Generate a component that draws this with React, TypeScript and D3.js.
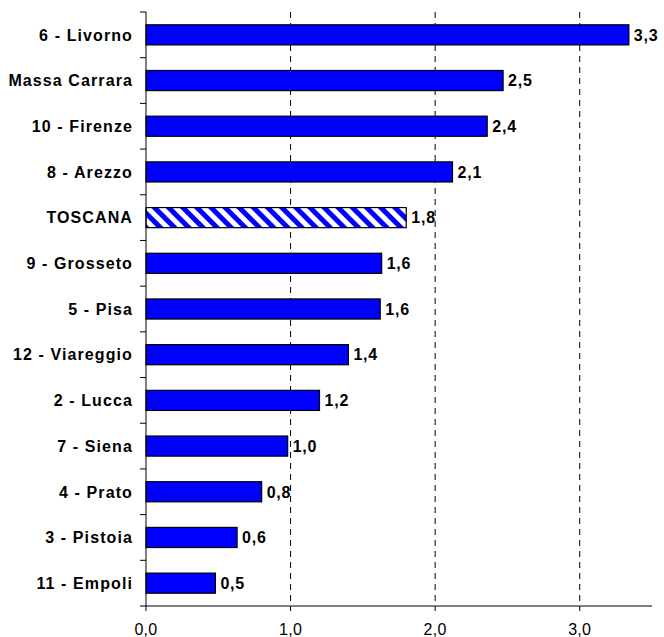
import React from "react";
import * as d3 from "d3";

const categories = [
  "6 - Livorno",
  "Massa Carrara",
  "10 - Firenze",
  "8 - Arezzo",
  "TOSCANA",
  "9 - Grosseto",
  "5 - Pisa",
  "12 - Viareggio",
  "2 - Lucca",
  "7 - Siena",
  "4 - Prato",
  "3 - Pistoia",
  "11 - Empoli",
];
const values = [3.34, 2.47, 2.36, 2.12, 1.8, 1.63, 1.62, 1.4, 1.2, 0.98, 0.8, 0.63, 0.48];
const xTicks = [0, 1, 2, 3];
const highlight = "TOSCANA";

const W = 664;
const H = 637;
const margin = { left: 146, right: 12, top: 12, bottom: 31 };

export default function App() {
  const x = d3.scaleLinear().domain([0, 3.5]).range([margin.left, W - margin.right]);
  const y = d3
    .scaleBand<string>()
    .domain(categories)
    .range([margin.top, H - margin.bottom])
    .paddingInner(0.56)
    .paddingOuter(0.28);
  const bandTop = (i: number) => margin.top + i * ((H - margin.bottom - margin.top) / categories.length);
  const fmt = (v: number) => d3.format(".1f")(v).replace(".", ",");
  const font = "'Liberation Sans', Arial, sans-serif";
  const yBottom = H - margin.bottom;

  return (
    <svg
      width={W}
      height={H}
      style={{ position: "absolute", left: 0, top: 0, display: "block", background: "#fff" }}
      fontFamily={font}
    >
      <defs>
        <pattern id="hatch" patternUnits="userSpaceOnUse" width="10" height="10" patternTransform="rotate(-45)">
          <rect width="10" height="10" fill="#fff" />
          <rect width="5" height="10" fill="#0000ff" />
        </pattern>
      </defs>

      {/* dashed gridlines */}
      {xTicks
        .filter((t) => t > 0)
        .map((t) => (
          <line
            key={"g" + t}
            x1={x(t)}
            x2={x(t)}
            y1={margin.top}
            y2={yBottom}
            stroke="#000"
            strokeWidth={1}
            strokeDasharray="6,5"
          />
        ))}

      {/* bars */}
      {categories.map((c, i) => (
        <rect
          key={c}
          x={x(0)}
          y={y(c)!}
          width={x(values[i]) - x(0)}
          height={y.bandwidth()}
          fill={c === highlight ? "url(#hatch)" : "#0000ff"}
          stroke="#000"
          strokeWidth={1.2}
        />
      ))}

      {/* value labels */}
      {categories.map((c, i) => (
        <text
          key={"v" + c}
          x={x(values[i]) + 5}
          y={y(c)! + y.bandwidth() / 2}
          dy="0.36em"
          fontSize={16}
          fontWeight="bold"
          letterSpacing={0.8}
          fill="#000"
        >
          {fmt(values[i])}
        </text>
      ))}

      {/* category labels */}
      {categories.map((c) => (
        <text
          key={"c" + c}
          x={margin.left - 13}
          y={y(c)! + y.bandwidth() / 2}
          dy="0.36em"
          textAnchor="end"
          fontSize={16}
          fontWeight="bold"
          letterSpacing={1.1}
          fill="#000"
        >
          {c}
        </text>
      ))}

      {/* y axis */}
      <line x1={x(0)} x2={x(0)} y1={margin.top} y2={yBottom} stroke="#000" strokeWidth={1} />
      {d3.range(categories.length + 1).map((i) => (
        <line
          key={"yt" + i}
          x1={x(0) - 6}
          x2={x(0)}
          y1={bandTop(i)}
          y2={bandTop(i)}
          stroke="#000"
          strokeWidth={1}
        />
      ))}

      {/* x axis */}
      <line x1={x(0)} x2={W - margin.right} y1={yBottom} y2={yBottom} stroke="#000" strokeWidth={1} />
      {xTicks.map((t) => (
        <g key={"xt" + t}>
          <line x1={x(t)} x2={x(t)} y1={yBottom} y2={yBottom + 5} stroke="#000" strokeWidth={1} />
          <text x={x(t)} y={yBottom + 29} textAnchor="middle" fontSize={16} letterSpacing={0.3} fill="#000">
            {fmt(t)}
          </text>
        </g>
      ))}
    </svg>
  );
}
